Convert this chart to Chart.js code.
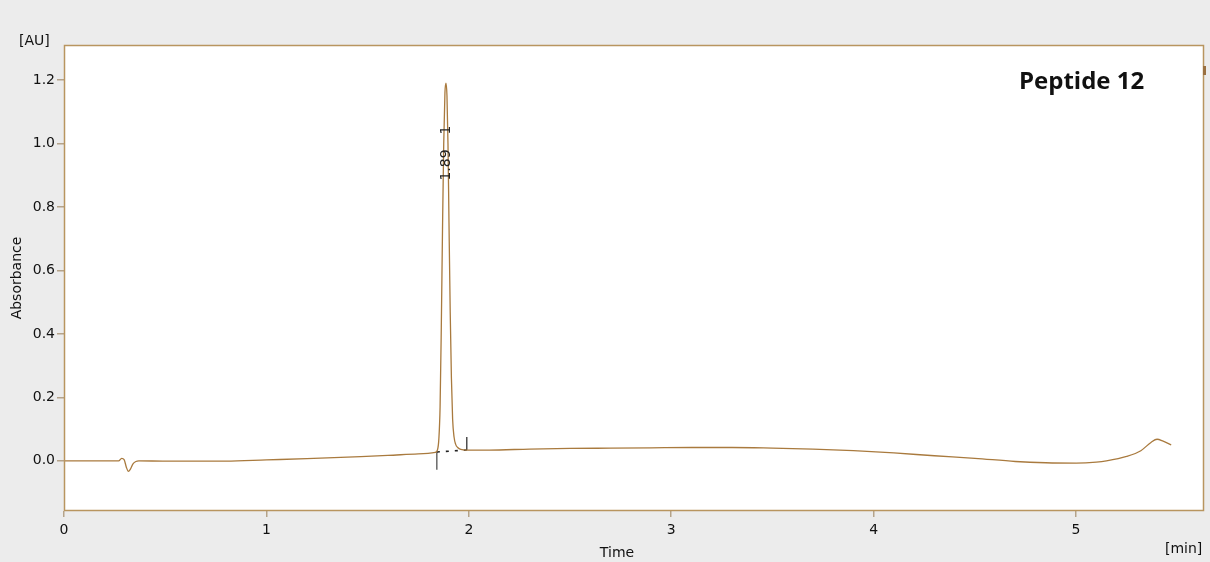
<!DOCTYPE html>
<html>
<head>
<meta charset="utf-8">
<script src="https://cdn.jsdelivr.net/npm/chart.js@4.4.1/dist/chart.umd.min.js"></script>
<style>
html,body{margin:0;padding:0;background:#ececec;}
#wrap{width:1210px;height:562px;position:relative;}
</style>
</head>
<body>
<div id="wrap"><canvas id="c" width="1210" height="562"></canvas></div>
<script>
// ---- data ----
const timeMin = [0, 0.1, 0.2, 0.27, 0.285, 0.297, 0.308, 0.318, 0.328, 0.34, 0.355, 0.37, 0.5, 0.8, 1.0, 1.2, 1.4, 1.6, 1.75, 1.835,
  1.845, 1.852, 1.858, 1.864, 1.870, 1.876, 1.882, 1.887, 1.892, 1.897, 1.902, 1.908, 1.914, 1.920, 1.927, 1.935, 1.945, 1.96, 1.99,
  2.1, 2.3, 2.5, 2.7, 2.9, 3.1, 3.3, 3.5, 3.7, 3.9, 4.1, 4.3, 4.5, 4.7, 4.85, 5.0, 5.1, 5.15, 5.25, 5.32, 5.37, 5.40, 5.43, 5.47];
const absorbance = [0, 0, 0, 0, 0.008, 0.004, -0.02, -0.033, -0.026, -0.01, -0.002, 0, -0.001, -0.001, 0.003, 0.007, 0.012, 0.017, 0.022, 0.027,
  0.034, 0.07, 0.17, 0.42, 0.73, 1.00, 1.16, 1.19, 1.15, 1.00, 0.75, 0.47, 0.26, 0.13, 0.075, 0.052, 0.042, 0.036, 0.034,
  0.034, 0.037, 0.039, 0.040, 0.041, 0.042, 0.042, 0.040, 0.037, 0.032, 0.025, 0.016, 0.008, -0.002, -0.006, -0.007, -0.004, 0.0, 0.014, 0.032, 0.058, 0.068, 0.062, 0.05];

// integration markers for peak 1
const baseStart = [1.842, 0.028];
const baseEnd = [1.99, 0.034];
const startMarkY = [0.028, -0.028];
const endMarkY = [0.034, 0.075];
const peakTime = 1.887;
const peakLabel = "1.89";
const peakNumber = "1";

const xTicks = [0, 1, 2, 3, 4, 5];
const yTicks = [0, 0.2, 0.4, 0.6, 0.8, 1.0, 1.2];
const xRange = [0, 5.632];
const yRange = [-0.158, 1.31];

const frameColor = '#b8955f';
const lineColor = '#a97a3e';

const curve = timeMin.map((t, i) => ({x: t, y: absorbance[i]}));

const bgPlugin = {
  id: 'bg',
  beforeDraw(chart) {
    const {ctx, chartArea: a} = chart;
    ctx.save();
    ctx.fillStyle = '#ececec';
    ctx.fillRect(0, 0, chart.width, chart.height);
    ctx.fillStyle = '#ffffff';
    ctx.fillRect(a.left, a.top, a.right - a.left, a.bottom - a.top);
    ctx.restore();
  },
  afterDraw(chart) {
    const {ctx, chartArea: a, scales} = chart;
    ctx.save();
    ctx.strokeStyle = frameColor;
    ctx.lineWidth = 1.5;
    ctx.strokeRect(a.left + 0.5, a.top + 0.5, a.right - a.left - 1, a.bottom - a.top - 1);
    // small marker on right frame
    ctx.fillStyle = '#9a7040';
    ctx.fillRect(a.right - 1, a.top + 21, 3, 9);
    ctx.fillStyle = '#111';
    ctx.font = '14px "DejaVu Sans"';
    ctx.textBaseline = 'alphabetic';
    ctx.textAlign = 'left';
    ctx.fillText('[AU]', 19, 45);
    ctx.fillText('[min]', 1165, 553);
    ctx.textAlign = 'center';
    ctx.fillText('Time', 617, 557);
    ctx.font = 'bold 24px "Open Sans"';
    ctx.textAlign = 'left';
    ctx.fillText('Peptide 12', 1019, 89);
    // peak labels
    const px = scales.x.getPixelForValue(peakTime);
    ctx.fillStyle = '#222';
    ctx.font = '14px "DejaVu Sans"';
    ctx.translate(px, 0);
    ctx.rotate(-Math.PI / 2);
    ctx.textAlign = 'center';
    ctx.textBaseline = 'middle';
    ctx.fillText(peakLabel, -165, 0);
    ctx.fillText(peakNumber, -130, 0);
    ctx.restore();
  }
};

new Chart(document.getElementById('c'), {
  type: 'line',
  data: {
    datasets: [
      {data: curve, borderColor: lineColor, borderWidth: 1.3, pointRadius: 0, cubicInterpolationMode: 'monotone', fill: false},
      {data: [{x: baseStart[0], y: baseStart[1]}, {x: baseEnd[0], y: baseEnd[1]}], borderColor: '#222', borderWidth: 1.6, borderDash: [3, 6], pointRadius: 0},
      {data: [{x: baseStart[0], y: startMarkY[0]}, {x: baseStart[0], y: startMarkY[1]}], borderColor: '#444', borderWidth: 1.2, pointRadius: 0},
      {data: [{x: baseEnd[0], y: endMarkY[0]}, {x: baseEnd[0], y: endMarkY[1]}], borderColor: '#222', borderWidth: 1.2, pointRadius: 0}
    ]
  },
  options: {
    responsive: false,
    animation: false,
    layout: {padding: {left: 0, right: 6, top: 45, bottom: 0}},
    plugins: {legend: {display: false}, tooltip: {enabled: false}},
    scales: {
      x: {
        type: 'linear', min: xRange[0], max: xRange[1],
        afterBuildTicks: s => { s.ticks = xTicks.map(v => ({value: v})); },
        afterFit: s => { s.height = 51; },
        border: {display: false},
        grid: {drawOnChartArea: false, drawTicks: true, tickLength: 6, color: '#b5a38a', lineWidth: 1.5},
        ticks: {color: '#111', font: {family: 'DejaVu Sans', size: 14}, padding: 5, maxRotation: 0, callback: v => String(v)}
      },
      y: {
        type: 'linear', min: yRange[0], max: yRange[1],
        afterBuildTicks: s => { s.ticks = yTicks.map(v => ({value: v})); },
        afterFit: s => { s.width = 64; },
        border: {display: false},
        grid: {drawOnChartArea: false, drawTicks: true, tickLength: 7, color: '#b5a38a', lineWidth: 1.5},
        ticks: {color: '#111', font: {family: 'DejaVu Sans', size: 14}, padding: 2, callback: v => v.toFixed(1)},
        title: {display: true, text: 'Absorbance', color: '#111', font: {family: 'DejaVu Sans', size: 14}, padding: {top: 9, bottom: 0}}
      }
    }
  },
  plugins: [bgPlugin]
});
</script>
</body>
</html>
